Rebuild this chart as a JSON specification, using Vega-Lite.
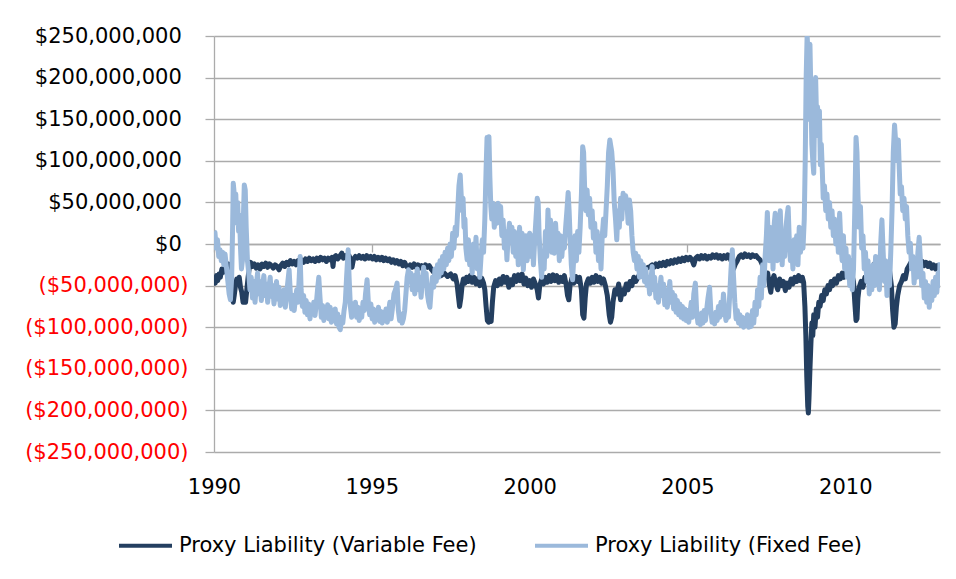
{
"$schema": "https://vega.github.io/schema/vega-lite/v6.json",
"width": 726, "height": 416,
"autosize": "none",
"padding": {"left": 214, "top": 36, "right": 16, "bottom": 127},
"background": "#ffffff",
"config": {"font": "DejaVu Sans", "view": {"stroke": null}},
"datasets": {
"variable": [
{"year":1990.00,"value":-42},{"year":1990.04,"value":-47},{"year":1990.08,"value":-38},{"year":1990.12,"value":-44},{"year":1990.16,"value":-36},{"year":1990.20,"value":-40},{"year":1990.25,"value":-30},{"year":1990.30,"value":-34},{"year":1990.35,"value":-26},{"year":1990.40,"value":-30},{"year":1990.45,"value":-24},{"year":1990.50,"value":-28},{"year":1990.55,"value":-45},{"year":1990.58,"value":-60},{"year":1990.61,"value":-70},{"year":1990.64,"value":-62},{"year":1990.68,"value":-50},{"year":1990.72,"value":-42},{"year":1990.76,"value":-48},{"year":1990.80,"value":-40},{"year":1990.84,"value":-52},{"year":1990.88,"value":-58},{"year":1990.92,"value":-70},{"year":1990.96,"value":-64},{"year":1991.00,"value":-70},{"year":1991.04,"value":-55},{"year":1991.08,"value":-40},{"year":1991.12,"value":-28},{"year":1991.16,"value":-22},{"year":1991.22,"value":-27},{"year":1991.28,"value":-24},{"year":1991.34,"value":-29},{"year":1991.40,"value":-25},{"year":1991.46,"value":-30},{"year":1991.52,"value":-24},{"year":1991.58,"value":-27},{"year":1991.64,"value":-23},{"year":1991.70,"value":-28},{"year":1991.76,"value":-24},{"year":1991.82,"value":-26},{"year":1991.88,"value":-29},{"year":1991.94,"value":-25},{"year":1992.00,"value":-27},{"year":1992.06,"value":-31},{"year":1992.12,"value":-26},{"year":1992.18,"value":-23},{"year":1992.24,"value":-27},{"year":1992.30,"value":-22},{"year":1992.36,"value":-25},{"year":1992.42,"value":-20},{"year":1992.48,"value":-24},{"year":1992.54,"value":-21},{"year":1992.60,"value":-25},{"year":1992.66,"value":-20},{"year":1992.72,"value":-23},{"year":1992.78,"value":-19},{"year":1992.84,"value":-22},{"year":1992.90,"value":-18},{"year":1992.96,"value":-21},{"year":1993.02,"value":-17},{"year":1993.08,"value":-20},{"year":1993.14,"value":-18},{"year":1993.20,"value":-21},{"year":1993.26,"value":-17},{"year":1993.32,"value":-20},{"year":1993.38,"value":-16},{"year":1993.44,"value":-19},{"year":1993.50,"value":-17},{"year":1993.56,"value":-21},{"year":1993.62,"value":-17},{"year":1993.68,"value":-19},{"year":1993.74,"value":-16},{"year":1993.77,"value":-27},{"year":1993.80,"value":-16},{"year":1993.86,"value":-14},{"year":1993.92,"value":-18},{"year":1993.98,"value":-15},{"year":1994.05,"value":-11},{"year":1994.10,"value":-17},{"year":1994.16,"value":-14},{"year":1994.22,"value":-17},{"year":1994.28,"value":-14},{"year":1994.33,"value":-19},{"year":1994.37,"value":-28},{"year":1994.42,"value":-18},{"year":1994.48,"value":-15},{"year":1994.54,"value":-17},{"year":1994.60,"value":-14},{"year":1994.66,"value":-17},{"year":1994.72,"value":-15},{"year":1994.78,"value":-18},{"year":1994.84,"value":-14},{"year":1994.90,"value":-17},{"year":1994.96,"value":-15},{"year":1995.02,"value":-18},{"year":1995.08,"value":-15},{"year":1995.14,"value":-19},{"year":1995.20,"value":-16},{"year":1995.26,"value":-19},{"year":1995.32,"value":-16},{"year":1995.38,"value":-20},{"year":1995.44,"value":-17},{"year":1995.50,"value":-20},{"year":1995.56,"value":-18},{"year":1995.62,"value":-22},{"year":1995.68,"value":-19},{"year":1995.74,"value":-23},{"year":1995.80,"value":-20},{"year":1995.86,"value":-24},{"year":1995.92,"value":-21},{"year":1995.98,"value":-26},{"year":1996.04,"value":-22},{"year":1996.10,"value":-27},{"year":1996.16,"value":-29},{"year":1996.22,"value":-25},{"year":1996.28,"value":-28},{"year":1996.34,"value":-24},{"year":1996.40,"value":-28},{"year":1996.46,"value":-25},{"year":1996.52,"value":-29},{"year":1996.58,"value":-26},{"year":1996.64,"value":-29},{"year":1996.70,"value":-25},{"year":1996.76,"value":-28},{"year":1996.82,"value":-26},{"year":1996.88,"value":-30},{"year":1996.94,"value":-33},{"year":1997.00,"value":-36},{"year":1997.10,"value":-34},{"year":1997.20,"value":-38},{"year":1997.30,"value":-35},{"year":1997.40,"value":-39},{"year":1997.50,"value":-36},{"year":1997.58,"value":-42},{"year":1997.64,"value":-38},{"year":1997.70,"value":-48},{"year":1997.74,"value":-62},{"year":1997.78,"value":-75},{"year":1997.82,"value":-65},{"year":1997.86,"value":-50},{"year":1997.90,"value":-42},{"year":1997.95,"value":-47},{"year":1998.00,"value":-40},{"year":1998.06,"value":-45},{"year":1998.12,"value":-38},{"year":1998.18,"value":-46},{"year":1998.24,"value":-40},{"year":1998.30,"value":-48},{"year":1998.36,"value":-42},{"year":1998.42,"value":-50},{"year":1998.48,"value":-41},{"year":1998.54,"value":-47},{"year":1998.58,"value":-55},{"year":1998.62,"value":-75},{"year":1998.66,"value":-92},{"year":1998.70,"value":-94},{"year":1998.74,"value":-88},{"year":1998.78,"value":-93},{"year":1998.82,"value":-70},{"year":1998.86,"value":-52},{"year":1998.92,"value":-44},{"year":1998.98,"value":-50},{"year":1999.04,"value":-42},{"year":1999.10,"value":-48},{"year":1999.16,"value":-39},{"year":1999.22,"value":-46},{"year":1999.28,"value":-40},{"year":1999.34,"value":-52},{"year":1999.40,"value":-43},{"year":1999.46,"value":-49},{"year":1999.52,"value":-38},{"year":1999.58,"value":-45},{"year":1999.64,"value":-37},{"year":1999.70,"value":-44},{"year":1999.76,"value":-36},{"year":1999.82,"value":-48},{"year":1999.88,"value":-41},{"year":1999.94,"value":-50},{"year":2000.00,"value":-44},{"year":2000.06,"value":-52},{"year":2000.12,"value":-42},{"year":2000.18,"value":-48},{"year":2000.24,"value":-55},{"year":2000.28,"value":-65},{"year":2000.32,"value":-50},{"year":2000.38,"value":-42},{"year":2000.44,"value":-48},{"year":2000.50,"value":-40},{"year":2000.56,"value":-46},{"year":2000.62,"value":-38},{"year":2000.68,"value":-45},{"year":2000.74,"value":-37},{"year":2000.80,"value":-44},{"year":2000.86,"value":-38},{"year":2000.92,"value":-46},{"year":2000.98,"value":-40},{"year":2001.04,"value":-45},{"year":2001.10,"value":-38},{"year":2001.16,"value":-50},{"year":2001.20,"value":-62},{"year":2001.24,"value":-67},{"year":2001.28,"value":-50},{"year":2001.34,"value":-41},{"year":2001.40,"value":-47},{"year":2001.46,"value":-39},{"year":2001.52,"value":-45},{"year":2001.58,"value":-40},{"year":2001.64,"value":-55},{"year":2001.68,"value":-85},{"year":2001.72,"value":-89},{"year":2001.76,"value":-65},{"year":2001.80,"value":-48},{"year":2001.86,"value":-42},{"year":2001.92,"value":-47},{"year":2001.98,"value":-40},{"year":2002.04,"value":-46},{"year":2002.10,"value":-38},{"year":2002.16,"value":-45},{"year":2002.22,"value":-40},{"year":2002.28,"value":-47},{"year":2002.34,"value":-42},{"year":2002.40,"value":-50},{"year":2002.46,"value":-62},{"year":2002.52,"value":-85},{"year":2002.56,"value":-94},{"year":2002.60,"value":-88},{"year":2002.64,"value":-70},{"year":2002.70,"value":-55},{"year":2002.76,"value":-60},{"year":2002.82,"value":-48},{"year":2002.88,"value":-67},{"year":2002.94,"value":-55},{"year":2003.00,"value":-60},{"year":2003.06,"value":-48},{"year":2003.12,"value":-55},{"year":2003.18,"value":-45},{"year":2003.24,"value":-50},{"year":2003.30,"value":-40},{"year":2003.36,"value":-45},{"year":2003.46,"value":-38},{"year":2003.56,"value":-35},{"year":2003.66,"value":-30},{"year":2003.76,"value":-28},{"year":2003.82,"value":-27},{"year":2003.88,"value":-25},{"year":2003.94,"value":-28},{"year":2004.00,"value":-24},{"year":2004.06,"value":-27},{"year":2004.12,"value":-23},{"year":2004.18,"value":-26},{"year":2004.24,"value":-22},{"year":2004.30,"value":-26},{"year":2004.36,"value":-21},{"year":2004.42,"value":-24},{"year":2004.48,"value":-20},{"year":2004.54,"value":-23},{"year":2004.60,"value":-19},{"year":2004.66,"value":-22},{"year":2004.72,"value":-18},{"year":2004.78,"value":-21},{"year":2004.84,"value":-17},{"year":2004.90,"value":-20},{"year":2004.96,"value":-16},{"year":2005.02,"value":-19},{"year":2005.08,"value":-16},{"year":2005.14,"value":-19},{"year":2005.20,"value":-25},{"year":2005.26,"value":-17},{"year":2005.32,"value":-15},{"year":2005.38,"value":-18},{"year":2005.44,"value":-14},{"year":2005.50,"value":-17},{"year":2005.56,"value":-14},{"year":2005.62,"value":-18},{"year":2005.68,"value":-15},{"year":2005.74,"value":-17},{"year":2005.80,"value":-13},{"year":2005.86,"value":-16},{"year":2005.92,"value":-13},{"year":2005.98,"value":-17},{"year":2006.04,"value":-14},{"year":2006.10,"value":-18},{"year":2006.16,"value":-14},{"year":2006.22,"value":-17},{"year":2006.28,"value":-13},{"year":2006.34,"value":-16},{"year":2006.40,"value":-22},{"year":2006.46,"value":-30},{"year":2006.52,"value":-24},{"year":2006.58,"value":-20},{"year":2006.64,"value":-15},{"year":2006.70,"value":-13},{"year":2006.76,"value":-16},{"year":2006.82,"value":-12},{"year":2006.88,"value":-15},{"year":2006.94,"value":-13},{"year":2007.00,"value":-16},{"year":2007.06,"value":-13},{"year":2007.12,"value":-15},{"year":2007.18,"value":-14},{"year":2007.24,"value":-17},{"year":2007.30,"value":-19},{"year":2007.36,"value":-24},{"year":2007.42,"value":-28},{"year":2007.48,"value":-40},{"year":2007.54,"value":-35},{"year":2007.60,"value":-50},{"year":2007.64,"value":-58},{"year":2007.68,"value":-45},{"year":2007.74,"value":-38},{"year":2007.80,"value":-48},{"year":2007.86,"value":-55},{"year":2007.92,"value":-42},{"year":2007.98,"value":-50},{"year":2008.04,"value":-45},{"year":2008.10,"value":-56},{"year":2008.16,"value":-47},{"year":2008.22,"value":-52},{"year":2008.28,"value":-42},{"year":2008.34,"value":-48},{"year":2008.40,"value":-40},{"year":2008.46,"value":-45},{"year":2008.52,"value":-38},{"year":2008.58,"value":-44},{"year":2008.64,"value":-40},{"year":2008.68,"value":-46},{"year":2008.72,"value":-75},{"year":2008.75,"value":-110},{"year":2008.78,"value":-160},{"year":2008.81,"value":-195},{"year":2008.83,"value":-203},{"year":2008.85,"value":-185},{"year":2008.88,"value":-150},{"year":2008.91,"value":-120},{"year":2008.94,"value":-95},{"year":2008.97,"value":-110},{"year":2009.00,"value":-85},{"year":2009.04,"value":-100},{"year":2009.08,"value":-78},{"year":2009.12,"value":-88},{"year":2009.16,"value":-70},{"year":2009.20,"value":-75},{"year":2009.25,"value":-62},{"year":2009.30,"value":-68},{"year":2009.35,"value":-55},{"year":2009.40,"value":-60},{"year":2009.45,"value":-50},{"year":2009.50,"value":-55},{"year":2009.55,"value":-45},{"year":2009.60,"value":-50},{"year":2009.66,"value":-42},{"year":2009.72,"value":-47},{"year":2009.78,"value":-38},{"year":2009.84,"value":-42},{"year":2009.90,"value":-35},{"year":2009.96,"value":-40},{"year":2010.02,"value":-33},{"year":2010.08,"value":-38},{"year":2010.14,"value":-32},{"year":2010.20,"value":-36},{"year":2010.26,"value":-45},{"year":2010.30,"value":-70},{"year":2010.34,"value":-92},{"year":2010.37,"value":-90},{"year":2010.40,"value":-65},{"year":2010.44,"value":-52},{"year":2010.50,"value":-45},{"year":2010.56,"value":-52},{"year":2010.62,"value":-40},{"year":2010.68,"value":-45},{"year":2010.74,"value":-36},{"year":2010.80,"value":-32},{"year":2010.86,"value":-28},{"year":2010.92,"value":-24},{"year":2010.98,"value":-28},{"year":2011.04,"value":-22},{"year":2011.10,"value":-27},{"year":2011.16,"value":-21},{"year":2011.22,"value":-26},{"year":2011.28,"value":-22},{"year":2011.34,"value":-27},{"year":2011.40,"value":-32},{"year":2011.46,"value":-50},{"year":2011.50,"value":-80},{"year":2011.54,"value":-100},{"year":2011.58,"value":-96},{"year":2011.62,"value":-75},{"year":2011.66,"value":-62},{"year":2011.72,"value":-50},{"year":2011.78,"value":-45},{"year":2011.84,"value":-38},{"year":2011.90,"value":-42},{"year":2011.96,"value":-30},{"year":2012.02,"value":-26},{"year":2012.08,"value":-22},{"year":2012.14,"value":-27},{"year":2012.20,"value":-19},{"year":2012.26,"value":-24},{"year":2012.32,"value":-20},{"year":2012.38,"value":-25},{"year":2012.44,"value":-21},{"year":2012.50,"value":-26},{"year":2012.56,"value":-22},{"year":2012.62,"value":-27},{"year":2012.68,"value":-23},{"year":2012.74,"value":-29},{"year":2012.80,"value":-25},{"year":2012.86,"value":-30},{"year":2012.92,"value":-26},{"year":2013.00,"value":-29}
],
"fixed": [
{"year":1990.00,"value":15},{"year":1990.03,"value":14},{"year":1990.07,"value":-5},{"year":1990.11,"value":5},{"year":1990.15,"value":-15},{"year":1990.19,"value":-7},{"year":1990.23,"value":-20},{"year":1990.27,"value":-10},{"year":1990.31,"value":-25},{"year":1990.35,"value":-12},{"year":1990.40,"value":-30},{"year":1990.44,"value":-45},{"year":1990.48,"value":-60},{"year":1990.52,"value":-67},{"year":1990.56,"value":-40},{"year":1990.59,"value":20},{"year":1990.61,"value":73},{"year":1990.63,"value":65},{"year":1990.66,"value":40},{"year":1990.69,"value":60},{"year":1990.72,"value":25},{"year":1990.75,"value":50},{"year":1990.78,"value":15},{"year":1990.81,"value":35},{"year":1990.84,"value":-5},{"year":1990.87,"value":-30},{"year":1990.90,"value":-20},{"year":1990.93,"value":30},{"year":1990.96,"value":71},{"year":1990.99,"value":65},{"year":1991.02,"value":20},{"year":1991.06,"value":-20},{"year":1991.10,"value":-35},{"year":1991.14,"value":-55},{"year":1991.18,"value":-40},{"year":1991.22,"value":-65},{"year":1991.26,"value":-45},{"year":1991.30,"value":-70},{"year":1991.34,"value":-50},{"year":1991.38,"value":-35},{"year":1991.42,"value":-60},{"year":1991.46,"value":-45},{"year":1991.50,"value":-68},{"year":1991.54,"value":-50},{"year":1991.58,"value":-38},{"year":1991.62,"value":-62},{"year":1991.66,"value":-48},{"year":1991.70,"value":-70},{"year":1991.74,"value":-52},{"year":1991.78,"value":-40},{"year":1991.82,"value":-63},{"year":1991.86,"value":-50},{"year":1991.90,"value":-72},{"year":1991.94,"value":-58},{"year":1991.98,"value":-45},{"year":1992.02,"value":-66},{"year":1992.06,"value":-52},{"year":1992.10,"value":-74},{"year":1992.14,"value":-58},{"year":1992.18,"value":-70},{"year":1992.22,"value":-55},{"year":1992.26,"value":-76},{"year":1992.30,"value":-60},{"year":1992.34,"value":-45},{"year":1992.38,"value":-31},{"year":1992.42,"value":-60},{"year":1992.46,"value":-78},{"year":1992.50,"value":-62},{"year":1992.54,"value":-80},{"year":1992.58,"value":-66},{"year":1992.62,"value":-55},{"year":1992.66,"value":-70},{"year":1992.70,"value":-40},{"year":1992.73,"value":-15},{"year":1992.76,"value":-55},{"year":1992.80,"value":-75},{"year":1992.84,"value":-62},{"year":1992.88,"value":-82},{"year":1992.92,"value":-68},{"year":1992.96,"value":-85},{"year":1993.00,"value":-72},{"year":1993.04,"value":-90},{"year":1993.08,"value":-75},{"year":1993.12,"value":-84},{"year":1993.16,"value":-70},{"year":1993.20,"value":-86},{"year":1993.24,"value":-72},{"year":1993.28,"value":-55},{"year":1993.32,"value":-40},{"year":1993.36,"value":-65},{"year":1993.40,"value":-88},{"year":1993.44,"value":-74},{"year":1993.48,"value":-92},{"year":1993.52,"value":-78},{"year":1993.56,"value":-88},{"year":1993.60,"value":-73},{"year":1993.64,"value":-90},{"year":1993.68,"value":-76},{"year":1993.72,"value":-94},{"year":1993.76,"value":-80},{"year":1993.80,"value":-92},{"year":1993.84,"value":-78},{"year":1993.88,"value":-96},{"year":1993.92,"value":-84},{"year":1993.96,"value":-100},{"year":1994.00,"value":-103},{"year":1994.04,"value":-88},{"year":1994.08,"value":-95},{"year":1994.12,"value":-80},{"year":1994.16,"value":-70},{"year":1994.20,"value":-40},{"year":1994.25,"value":-7},{"year":1994.28,"value":-40},{"year":1994.32,"value":-75},{"year":1994.36,"value":-88},{"year":1994.40,"value":-72},{"year":1994.44,"value":-85},{"year":1994.48,"value":-70},{"year":1994.52,"value":-88},{"year":1994.56,"value":-76},{"year":1994.60,"value":-92},{"year":1994.64,"value":-78},{"year":1994.68,"value":-88},{"year":1994.72,"value":-70},{"year":1994.76,"value":-80},{"year":1994.80,"value":-60},{"year":1994.85,"value":-43},{"year":1994.89,"value":-70},{"year":1994.93,"value":-85},{"year":1994.97,"value":-72},{"year":1995.01,"value":-90},{"year":1995.05,"value":-78},{"year":1995.09,"value":-94},{"year":1995.13,"value":-80},{"year":1995.17,"value":-91},{"year":1995.21,"value":-76},{"year":1995.25,"value":-93},{"year":1995.29,"value":-81},{"year":1995.33,"value":-95},{"year":1995.37,"value":-82},{"year":1995.41,"value":-92},{"year":1995.45,"value":-78},{"year":1995.49,"value":-94},{"year":1995.53,"value":-82},{"year":1995.57,"value":-70},{"year":1995.61,"value":-90},{"year":1995.65,"value":-78},{"year":1995.70,"value":-60},{"year":1995.75,"value":-55},{"year":1995.80,"value":-47},{"year":1995.84,"value":-80},{"year":1995.88,"value":-92},{"year":1995.92,"value":-84},{"year":1995.96,"value":-95},{"year":1996.00,"value":-90},{"year":1996.04,"value":-80},{"year":1996.08,"value":-60},{"year":1996.12,"value":-40},{"year":1996.16,"value":-31},{"year":1996.20,"value":-45},{"year":1996.24,"value":-35},{"year":1996.28,"value":-55},{"year":1996.32,"value":-38},{"year":1996.36,"value":-60},{"year":1996.40,"value":-45},{"year":1996.44,"value":-30},{"year":1996.48,"value":-55},{"year":1996.52,"value":-40},{"year":1996.56,"value":-64},{"year":1996.60,"value":-45},{"year":1996.64,"value":-28},{"year":1996.68,"value":-50},{"year":1996.72,"value":-35},{"year":1996.76,"value":-60},{"year":1996.80,"value":-70},{"year":1996.84,"value":-76},{"year":1996.88,"value":-55},{"year":1996.92,"value":-40},{"year":1996.96,"value":-52},{"year":1997.00,"value":-30},{"year":1997.04,"value":-45},{"year":1997.08,"value":-25},{"year":1997.12,"value":-40},{"year":1997.16,"value":-20},{"year":1997.20,"value":-35},{"year":1997.24,"value":-15},{"year":1997.28,"value":-30},{"year":1997.32,"value":-10},{"year":1997.36,"value":-25},{"year":1997.40,"value":-5},{"year":1997.44,"value":-20},{"year":1997.48,"value":0},{"year":1997.52,"value":-15},{"year":1997.56,"value":13},{"year":1997.60,"value":-5},{"year":1997.64,"value":20},{"year":1997.68,"value":10},{"year":1997.72,"value":40},{"year":1997.76,"value":70},{"year":1997.80,"value":83},{"year":1997.83,"value":60},{"year":1997.86,"value":40},{"year":1997.89,"value":55},{"year":1997.92,"value":20},{"year":1997.95,"value":30},{"year":1997.98,"value":-5},{"year":1998.02,"value":-19},{"year":1998.06,"value":5},{"year":1998.10,"value":-25},{"year":1998.14,"value":-5},{"year":1998.18,"value":-35},{"year":1998.22,"value":0},{"year":1998.26,"value":-20},{"year":1998.30,"value":8},{"year":1998.34,"value":-30},{"year":1998.38,"value":-10},{"year":1998.42,"value":-40},{"year":1998.46,"value":-15},{"year":1998.50,"value":5},{"year":1998.54,"value":-10},{"year":1998.58,"value":30},{"year":1998.62,"value":90},{"year":1998.65,"value":128},{"year":1998.68,"value":120},{"year":1998.71,"value":129},{"year":1998.74,"value":80},{"year":1998.77,"value":45},{"year":1998.80,"value":30},{"year":1998.84,"value":49},{"year":1998.88,"value":20},{"year":1998.92,"value":40},{"year":1998.96,"value":25},{"year":1999.00,"value":49},{"year":1999.04,"value":30},{"year":1999.08,"value":45},{"year":1999.12,"value":10},{"year":1999.16,"value":29},{"year":1999.20,"value":-5},{"year":1999.24,"value":15},{"year":1999.28,"value":-19},{"year":1999.32,"value":10},{"year":1999.36,"value":25},{"year":1999.40,"value":5},{"year":1999.44,"value":20},{"year":1999.48,"value":-10},{"year":1999.52,"value":15},{"year":1999.56,"value":-15},{"year":1999.60,"value":5},{"year":1999.64,"value":-25},{"year":1999.68,"value":20},{"year":1999.72,"value":-10},{"year":1999.76,"value":13},{"year":1999.80,"value":-31},{"year":1999.84,"value":0},{"year":1999.88,"value":10},{"year":1999.92,"value":-20},{"year":1999.96,"value":5},{"year":2000.00,"value":13},{"year":2000.04,"value":-15},{"year":2000.08,"value":10},{"year":2000.12,"value":-25},{"year":2000.16,"value":5},{"year":2000.20,"value":30},{"year":2000.24,"value":55},{"year":2000.27,"value":50},{"year":2000.30,"value":10},{"year":2000.34,"value":-20},{"year":2000.38,"value":-40},{"year":2000.42,"value":-10},{"year":2000.46,"value":-30},{"year":2000.50,"value":15},{"year":2000.54,"value":-15},{"year":2000.58,"value":41},{"year":2000.62,"value":5},{"year":2000.66,"value":29},{"year":2000.70,"value":-10},{"year":2000.74,"value":20},{"year":2000.78,"value":-11},{"year":2000.82,"value":25},{"year":2000.86,"value":0},{"year":2000.90,"value":13},{"year":2000.94,"value":-20},{"year":2000.98,"value":10},{"year":2001.02,"value":-15},{"year":2001.06,"value":5},{"year":2001.10,"value":-5},{"year":2001.14,"value":20},{"year":2001.18,"value":40},{"year":2001.22,"value":62},{"year":2001.25,"value":40},{"year":2001.28,"value":10},{"year":2001.32,"value":-25},{"year":2001.36,"value":-43},{"year":2001.40,"value":-15},{"year":2001.44,"value":10},{"year":2001.48,"value":-20},{"year":2001.52,"value":15},{"year":2001.56,"value":-10},{"year":2001.60,"value":20},{"year":2001.64,"value":60},{"year":2001.68,"value":117},{"year":2001.71,"value":110},{"year":2001.74,"value":70},{"year":2001.78,"value":40},{"year":2001.82,"value":65},{"year":2001.86,"value":35},{"year":2001.90,"value":55},{"year":2001.94,"value":20},{"year":2001.98,"value":40},{"year":2002.02,"value":7},{"year":2002.06,"value":25},{"year":2002.10,"value":-10},{"year":2002.14,"value":15},{"year":2002.18,"value":-20},{"year":2002.22,"value":5},{"year":2002.26,"value":-30},{"year":2002.30,"value":10},{"year":2002.34,"value":30},{"year":2002.38,"value":10},{"year":2002.42,"value":40},{"year":2002.46,"value":70},{"year":2002.50,"value":110},{"year":2002.54,"value":125},{"year":2002.57,"value":118},{"year":2002.60,"value":111},{"year":2002.64,"value":90},{"year":2002.68,"value":50},{"year":2002.72,"value":30},{"year":2002.76,"value":5},{"year":2002.80,"value":40},{"year":2002.84,"value":20},{"year":2002.88,"value":55},{"year":2002.92,"value":30},{"year":2002.96,"value":61},{"year":2003.00,"value":45},{"year":2003.04,"value":58},{"year":2003.08,"value":50},{"year":2003.12,"value":25},{"year":2003.16,"value":53},{"year":2003.20,"value":40},{"year":2003.24,"value":10},{"year":2003.28,"value":-10},{"year":2003.32,"value":-20},{"year":2003.36,"value":-11},{"year":2003.40,"value":-30},{"year":2003.44,"value":-15},{"year":2003.48,"value":-40},{"year":2003.52,"value":-20},{"year":2003.56,"value":-35},{"year":2003.60,"value":-25},{"year":2003.64,"value":-45},{"year":2003.68,"value":-30},{"year":2003.72,"value":-50},{"year":2003.76,"value":-40},{"year":2003.80,"value":-60},{"year":2003.84,"value":-45},{"year":2003.88,"value":-27},{"year":2003.92,"value":-55},{"year":2003.96,"value":-40},{"year":2004.00,"value":-65},{"year":2004.04,"value":-50},{"year":2004.08,"value":-70},{"year":2004.12,"value":-55},{"year":2004.16,"value":-40},{"year":2004.20,"value":-62},{"year":2004.24,"value":-48},{"year":2004.28,"value":-73},{"year":2004.32,"value":-55},{"year":2004.36,"value":-76},{"year":2004.40,"value":-62},{"year":2004.44,"value":-45},{"year":2004.48,"value":-70},{"year":2004.52,"value":-58},{"year":2004.56,"value":-78},{"year":2004.60,"value":-62},{"year":2004.64,"value":-82},{"year":2004.68,"value":-68},{"year":2004.72,"value":-85},{"year":2004.76,"value":-72},{"year":2004.80,"value":-88},{"year":2004.84,"value":-75},{"year":2004.88,"value":-90},{"year":2004.92,"value":-78},{"year":2004.96,"value":-92},{"year":2005.00,"value":-80},{"year":2005.04,"value":-94},{"year":2005.08,"value":-82},{"year":2005.12,"value":-70},{"year":2005.16,"value":-88},{"year":2005.20,"value":-60},{"year":2005.25,"value":-47},{"year":2005.29,"value":-80},{"year":2005.33,"value":-95},{"year":2005.37,"value":-85},{"year":2005.41,"value":-97},{"year":2005.45,"value":-83},{"year":2005.49,"value":-95},{"year":2005.53,"value":-80},{"year":2005.57,"value":-92},{"year":2005.61,"value":-78},{"year":2005.65,"value":-65},{"year":2005.70,"value":-52},{"year":2005.74,"value":-80},{"year":2005.78,"value":-94},{"year":2005.82,"value":-85},{"year":2005.86,"value":-96},{"year":2005.90,"value":-82},{"year":2005.94,"value":-92},{"year":2005.98,"value":-75},{"year":2006.02,"value":-88},{"year":2006.06,"value":-70},{"year":2006.10,"value":-85},{"year":2006.14,"value":-60},{"year":2006.18,"value":-80},{"year":2006.22,"value":-92},{"year":2006.26,"value":-78},{"year":2006.30,"value":-88},{"year":2006.34,"value":-60},{"year":2006.38,"value":-30},{"year":2006.42,"value":-7},{"year":2006.46,"value":-40},{"year":2006.50,"value":-70},{"year":2006.54,"value":-90},{"year":2006.58,"value":-80},{"year":2006.62,"value":-95},{"year":2006.66,"value":-85},{"year":2006.70,"value":-98},{"year":2006.74,"value":-88},{"year":2006.78,"value":-100},{"year":2006.82,"value":-90},{"year":2006.86,"value":-98},{"year":2006.90,"value":-85},{"year":2006.94,"value":-100},{"year":2006.98,"value":-92},{"year":2007.02,"value":-99},{"year":2007.06,"value":-80},{"year":2007.10,"value":-95},{"year":2007.14,"value":-70},{"year":2007.18,"value":-85},{"year":2007.22,"value":-55},{"year":2007.26,"value":-75},{"year":2007.30,"value":-40},{"year":2007.34,"value":-65},{"year":2007.38,"value":-25},{"year":2007.42,"value":-50},{"year":2007.46,"value":-15},{"year":2007.50,"value":10},{"year":2007.53,"value":38},{"year":2007.56,"value":5},{"year":2007.59,"value":-20},{"year":2007.62,"value":20},{"year":2007.65,"value":-10},{"year":2007.68,"value":10},{"year":2007.71,"value":-30},{"year":2007.75,"value":25},{"year":2007.78,"value":37},{"year":2007.81,"value":0},{"year":2007.84,"value":-20},{"year":2007.87,"value":15},{"year":2007.90,"value":-10},{"year":2007.94,"value":40},{"year":2007.97,"value":5},{"year":2008.00,"value":-25},{"year":2008.04,"value":10},{"year":2008.08,"value":-15},{"year":2008.12,"value":20},{"year":2008.16,"value":35},{"year":2008.19,"value":44},{"year":2008.22,"value":10},{"year":2008.26,"value":-20},{"year":2008.30,"value":0},{"year":2008.34,"value":-30},{"year":2008.38,"value":5},{"year":2008.42,"value":-15},{"year":2008.46,"value":10},{"year":2008.50,"value":-25},{"year":2008.54,"value":20},{"year":2008.58,"value":-10},{"year":2008.62,"value":15},{"year":2008.66,"value":-5},{"year":2008.70,"value":30},{"year":2008.73,"value":100},{"year":2008.76,"value":200},{"year":2008.79,"value":250},{"year":2008.82,"value":230},{"year":2008.85,"value":150},{"year":2008.88,"value":240},{"year":2008.91,"value":180},{"year":2008.94,"value":120},{"year":2008.97,"value":100},{"year":2009.00,"value":85},{"year":2009.03,"value":170},{"year":2009.06,"value":200},{"year":2009.09,"value":150},{"year":2009.12,"value":165},{"year":2009.15,"value":130},{"year":2009.18,"value":160},{"year":2009.21,"value":95},{"year":2009.24,"value":120},{"year":2009.27,"value":90},{"year":2009.30,"value":55},{"year":2009.34,"value":70},{"year":2009.38,"value":40},{"year":2009.42,"value":60},{"year":2009.46,"value":30},{"year":2009.50,"value":50},{"year":2009.54,"value":20},{"year":2009.58,"value":40},{"year":2009.62,"value":10},{"year":2009.66,"value":30},{"year":2009.70,"value":0},{"year":2009.74,"value":20},{"year":2009.78,"value":-10},{"year":2009.82,"value":37},{"year":2009.86,"value":0},{"year":2009.90,"value":-20},{"year":2009.94,"value":10},{"year":2009.98,"value":-30},{"year":2010.02,"value":-5},{"year":2010.06,"value":-40},{"year":2010.10,"value":-15},{"year":2010.14,"value":-50},{"year":2010.18,"value":-20},{"year":2010.22,"value":-55},{"year":2010.26,"value":-30},{"year":2010.30,"value":40},{"year":2010.34,"value":128},{"year":2010.37,"value":110},{"year":2010.40,"value":60},{"year":2010.44,"value":20},{"year":2010.48,"value":45},{"year":2010.52,"value":-5},{"year":2010.56,"value":10},{"year":2010.60,"value":-30},{"year":2010.64,"value":-10},{"year":2010.68,"value":-45},{"year":2010.72,"value":-20},{"year":2010.76,"value":-60},{"year":2010.80,"value":-30},{"year":2010.84,"value":-55},{"year":2010.88,"value":-25},{"year":2010.92,"value":-50},{"year":2010.96,"value":-15},{"year":2011.00,"value":-45},{"year":2011.04,"value":-20},{"year":2011.08,"value":-55},{"year":2011.12,"value":0},{"year":2011.16,"value":29},{"year":2011.20,"value":-10},{"year":2011.24,"value":-45},{"year":2011.28,"value":-20},{"year":2011.32,"value":-62},{"year":2011.36,"value":-30},{"year":2011.40,"value":-50},{"year":2011.44,"value":-10},{"year":2011.48,"value":40},{"year":2011.52,"value":110},{"year":2011.56,"value":143},{"year":2011.60,"value":120},{"year":2011.64,"value":100},{"year":2011.68,"value":125},{"year":2011.71,"value":90},{"year":2011.74,"value":60},{"year":2011.78,"value":69},{"year":2011.82,"value":40},{"year":2011.86,"value":55},{"year":2011.90,"value":30},{"year":2011.94,"value":45},{"year":2011.98,"value":10},{"year":2012.02,"value":-10},{"year":2012.06,"value":1},{"year":2012.10,"value":-30},{"year":2012.14,"value":-15},{"year":2012.18,"value":-47},{"year":2012.22,"value":-25},{"year":2012.26,"value":-40},{"year":2012.30,"value":-10},{"year":2012.34,"value":8},{"year":2012.38,"value":-20},{"year":2012.42,"value":-50},{"year":2012.46,"value":-35},{"year":2012.50,"value":-65},{"year":2012.54,"value":-45},{"year":2012.58,"value":-70},{"year":2012.62,"value":-50},{"year":2012.66,"value":-76},{"year":2012.70,"value":-55},{"year":2012.74,"value":-68},{"year":2012.78,"value":-45},{"year":2012.82,"value":-62},{"year":2012.86,"value":-40},{"year":2012.90,"value":-58},{"year":2012.94,"value":-35},{"year":2012.98,"value":-50},{"year":2013.00,"value":-22}
]
},
"resolve": {"axis": {"x": "independent"}},
"layer": [
{
"data": {"name": "variable"},
"mark": {"type": "line", "strokeWidth": 5, "strokeJoin": "round", "clip": true},
"encoding": {
"x": {"field": "year", "type": "quantitative", "scale": {"domain": [1990, 2013], "nice": false, "zero": false},
  "axis": {"title": null, "values": [1990, 1995, 2000, 2005, 2010], "format": "d", "grid": false, "domain": false, "ticks": false, "tickSize": 0, "labelPadding": 24, "labelFont": "DejaVu Sans", "labelFontSize": 21, "labelColor": "#000000", "labelFlush": false}},
"y": {"field": "value", "type": "quantitative", "scale": {"domain": [-250, 250], "nice": false},
  "axis": {"title": null, "values": [-250, -200, -150, -100, -50, 0, 50, 100, 150, 200, 250],
    "labelExpr": "datum.value < 0 ? '($' + format(-datum.value * 1000000, ',') + ')' : '$' + format(datum.value * 1000000, ',') + '\u00a0\u200b'",
    "grid": true, "gridColor": "#ABABAB", "gridWidth": 1.3, "domainColor": "#ABABAB", "domainWidth": 1.3, "tickColor": "#ABABAB", "tickWidth": 1.3, "tickSize": 9,
    "labelPadding": 17, "labelFont": "DejaVu Sans", "labelFontSize": 21,
    "labelColor": {"condition": {"test": "datum.value < 0", "value": "#FF0000"}, "value": "#000000"}}},
"color": {"datum": "Proxy Liability (Variable Fee)", "type": "nominal",
  "scale": {"domain": ["Proxy Liability (Variable Fee)", "Proxy Liability (Fixed Fee)"], "range": ["#243F60", "#9BB9DB"]},
  "legend": {"title": null, "orient": "none", "direction": "horizontal", "legendX": -97, "legendY": 481,
    "symbolType": "stroke", "symbolSize": 2809, "symbolStrokeWidth": 4, "labelFont": "DejaVu Sans", "labelFontSize": 21, "labelColor": "#000000", "labelOffset": 5, "columnPadding": 50, "labelLimit": 500}}
}
},
{
"data": {"name": "fixed"},
"mark": {"type": "line", "strokeWidth": 5, "strokeJoin": "round", "clip": true},
"encoding": {
"x": {"field": "year", "type": "quantitative",
  "axis": {"title": null, "orient": "bottom", "offset": -208, "values": [1990, 1995, 2000, 2005, 2010], "labels": false, "grid": false, "domain": true, "domainColor": "#ABABAB", "domainWidth": 1.3, "ticks": true, "tickColor": "#ABABAB", "tickWidth": 1.3, "tickSize": 8}},
"y": {"field": "value", "type": "quantitative"},
"color": {"datum": "Proxy Liability (Fixed Fee)", "type": "nominal"}
}
}
]
}
